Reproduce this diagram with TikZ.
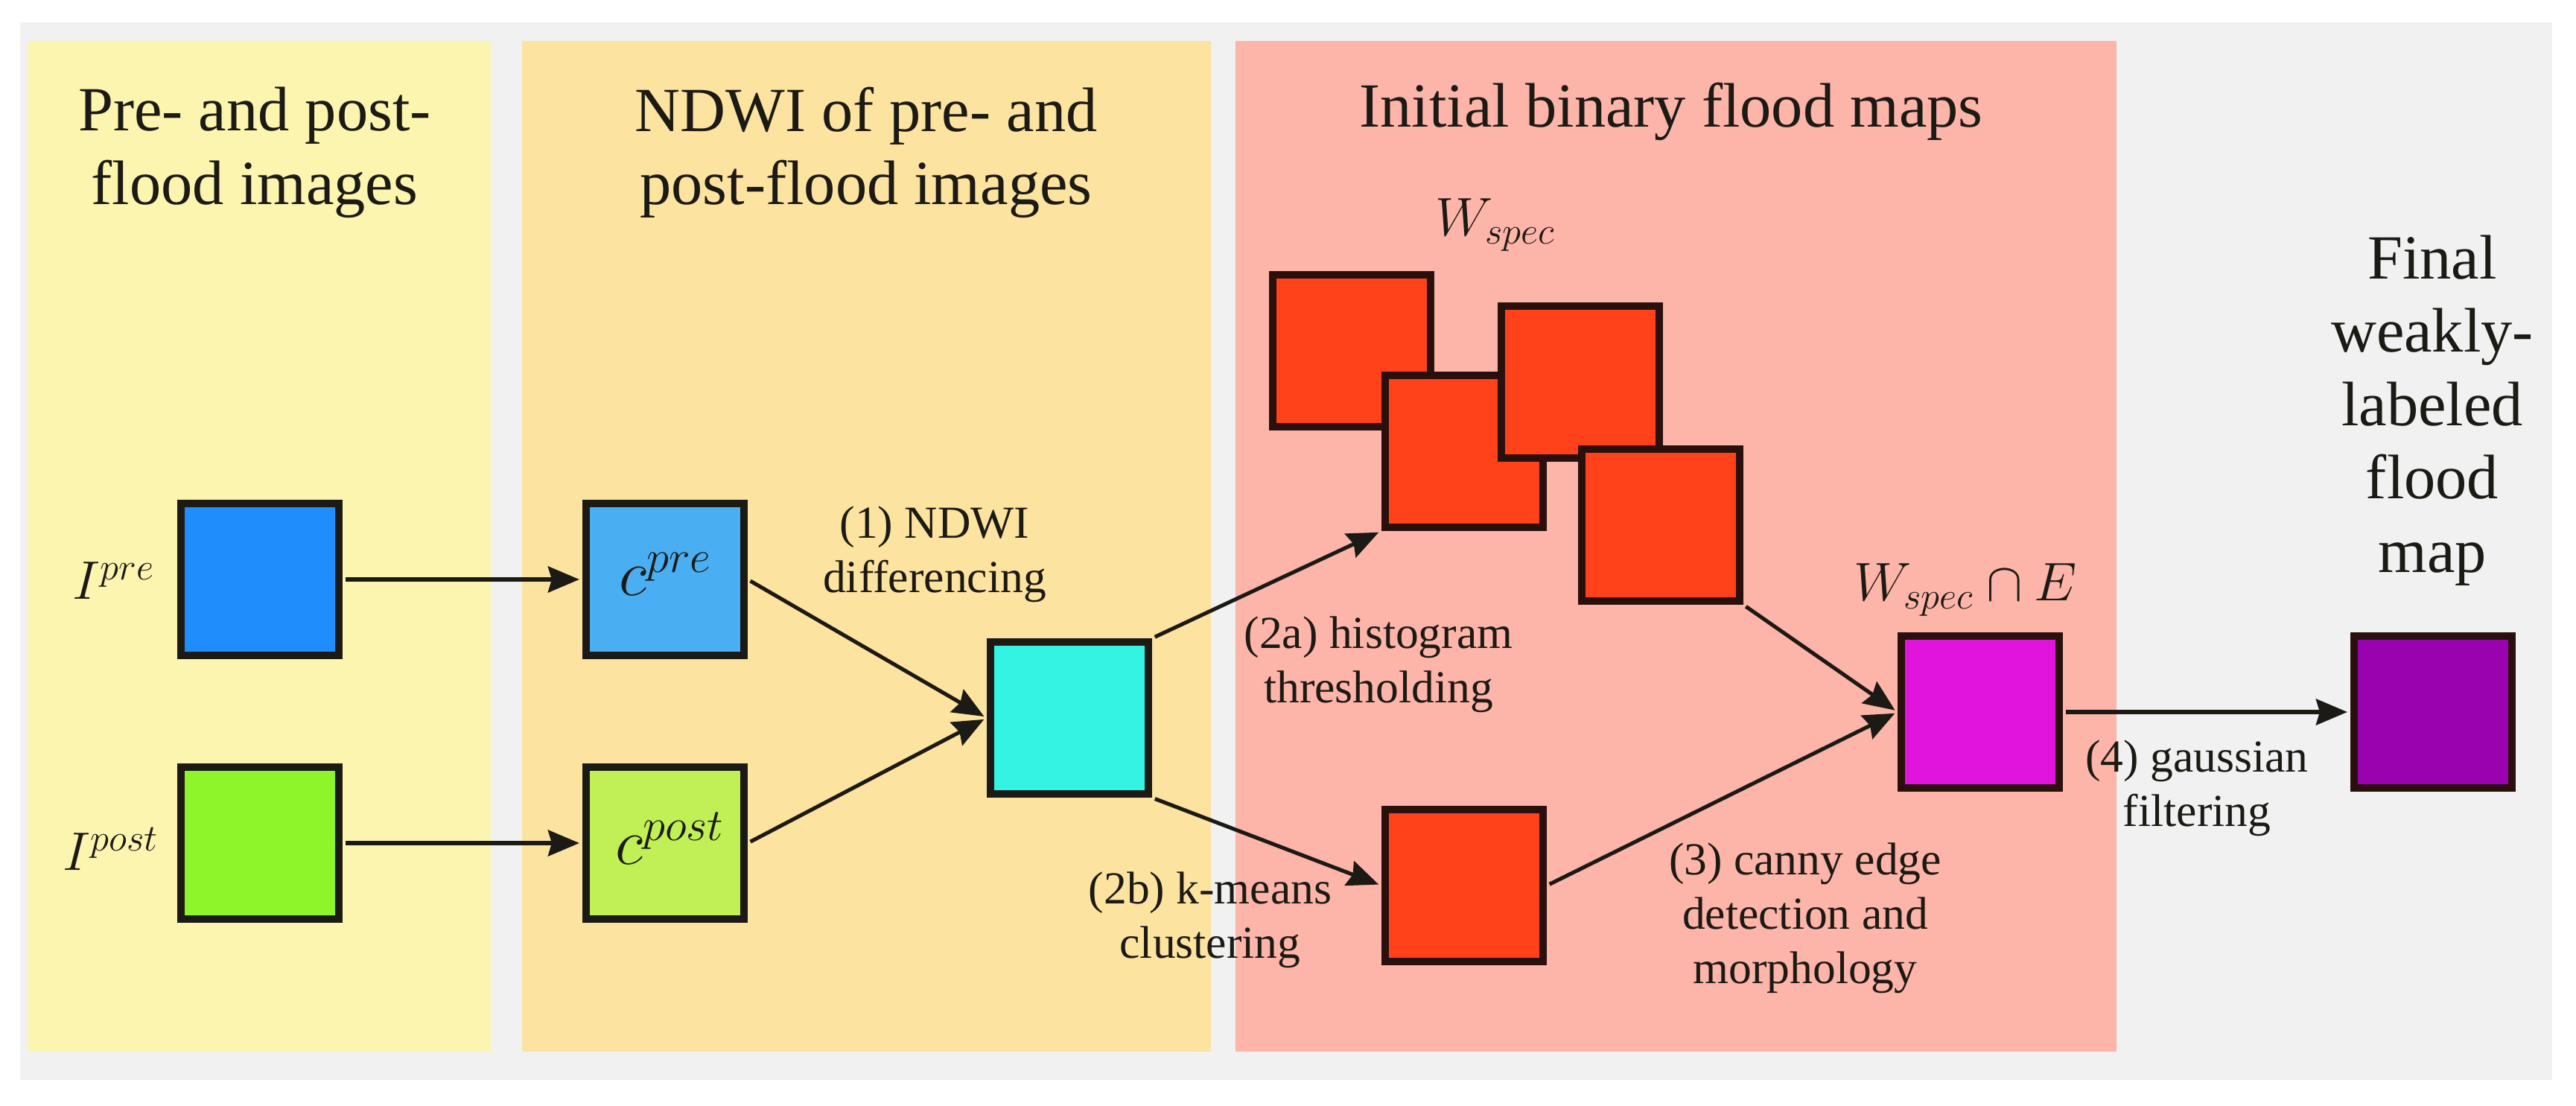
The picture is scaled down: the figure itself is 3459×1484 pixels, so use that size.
\documentclass[tikz,border=0pt]{standalone}
\usepackage{fontspec}
\setmainfont{Liberation Serif}
\usetikzlibrary{arrows.meta}

\definecolor{pagegrey}{HTML}{F1F1F2}
\definecolor{panelA}{HTML}{FBF5B0}
\definecolor{panelB}{HTML}{FDE3A0}
\definecolor{panelC}{HTML}{FDB4A9}
\definecolor{ink}{HTML}{1C1A14}
\definecolor{inkred}{HTML}{2A100C}
\definecolor{cblue}{HTML}{1F8DFB}
\definecolor{clblue}{HTML}{4AAEF2}
\definecolor{cgreen}{HTML}{8FF52B}
\definecolor{clgreen}{HTML}{C0F055}
\definecolor{ccyan}{HTML}{33F3E3}
\definecolor{cred}{HTML}{FF421A}
\definecolor{cmag}{HTML}{E014DC}
\definecolor{cpur}{HTML}{9A02B0}

\tikzset{
  sq/.style={draw=ink,line width=2.85pt,rectangle,inner sep=0pt,
    minimum width=2.12cm,minimum height=2.04cm},
  redsq/.style={sq,draw=inkred,fill=cred},
  arr/.style={-{Stealth[length=0.42cm,width=0.35cm,inset=0.05cm]},line width=1.45pt,draw=ink,shorten <=0.04cm,shorten >=0.04cm},
  title/.style={align=center,text=ink,font=\fontsize{24}{28}\selectfont,inner sep=0pt},
  steplabel/.style={align=center,text=ink,font=\fontsize{17.5}{20.8}\selectfont,inner sep=0pt},
  sym/.style={text=ink,font=\fontsize{22}{26}\selectfont,inner sep=0pt},
  symI/.style={text=ink,font=\fontsize{22.5}{26}\selectfont,inner sep=0pt},
  symC/.style={text=ink,font=\fontsize{26}{30}\selectfont,inner sep=0pt},
}

\begin{document}
\begin{tikzpicture}[x=0.01cm,y=-0.01cm]
  \useasboundingbox (0,0) rectangle (3459,1484);

  % panels
  \fill[pagegrey] (27,30) rectangle (3427,1450);
  \fill[panelA] (38,55) rectangle (659,1412);
  \fill[panelB] (701,55) rectangle (1626,1412);
  \fill[panelC] (1659,55) rectangle (2842,1412);

  % squares
  \node[sq,fill=cblue] (ipre) at (349,778) {};
  \node[sq,fill=cgreen] (ipost) at (349,1132) {};
  \node[sq,fill=clblue] (cpre) at (893,778) {};
  \node[sq,fill=clgreen] (cpost) at (893,1132) {};
  \node[sq,fill=ccyan] (diff) at (1436,964) {};
  \node[redsq] (wa) at (1815,471) {};
  \node[redsq] (wb) at (1966,606) {};
  \node[redsq] (wc) at (2122,513) {};
  \node[redsq] (wd) at (2230,705) {};
  \node[redsq] (km) at (1966,1189) {};
  \node[sq,draw=inkred,fill=cmag] (inter) at (2659,956) {};
  \node[sq,draw=inkred,fill=cpur] (final) at (3267,956) {};

  % arrows
  \draw[arr] (ipre) -- (cpre);
  \draw[arr] (ipost) -- (cpost);
  \draw[arr] (cpre.east) -- (diff.west);
  \draw[arr] (cpost.east) -- (diff.west);
  \draw[arr] (diff.north east) -- (wb.south west);
  \draw[arr] (diff.south east) -- (km.west);
  \draw[arr] (wd.south east) -- (inter.west);
  \draw[arr] (km.east) -- (inter.west);
  \draw[arr] (inter) -- (final);

  % titles
  \node[title] (t1) at (342,205) {Pre- and post-\\flood images};
  \node[title] (t2) at (1163,205) {NDWI of pre- and\\post-flood images};
  \node[title] (t3) at (2244,150) {Initial binary flood maps};
  \node[title] (t4) at (3266,551) {Final\\weakly-\\labeled\\flood\\map};

  % step labels
  \node[steplabel] (s1) at (1255,744) {(1) NDWI\\differencing};
  \node[steplabel] (s2a) at (1851,892) {(2a) histogram\\thresholding};
  \node[steplabel] (s2b) at (1625,1235) {(2b) k-means\\clustering};
  \node[steplabel] (s3) at (2424,1233) {(3) canny edge\\detection and\\morphology};
  \node[steplabel] (s4) at (2950,1058) {(4) gaussian\\filtering};

  % symbols
  \node[symI] (lipre) at (153,780) {$I^{pre}$};
  \node[symI] (lipost) at (149,1140) {$I^{post}$};
  \node[symC] (lcpre) at (894,771) {$c^{pre}$};
  \node[symC] (lcpost) at (900,1126) {$c^{post}$};
  \node[sym] (lw) at (2008,302) {$W_{spec}$};
  \node[sym] (lwe) at (2639,792) {$W_{spec}\cap E$};
\end{tikzpicture}
\end{document}
